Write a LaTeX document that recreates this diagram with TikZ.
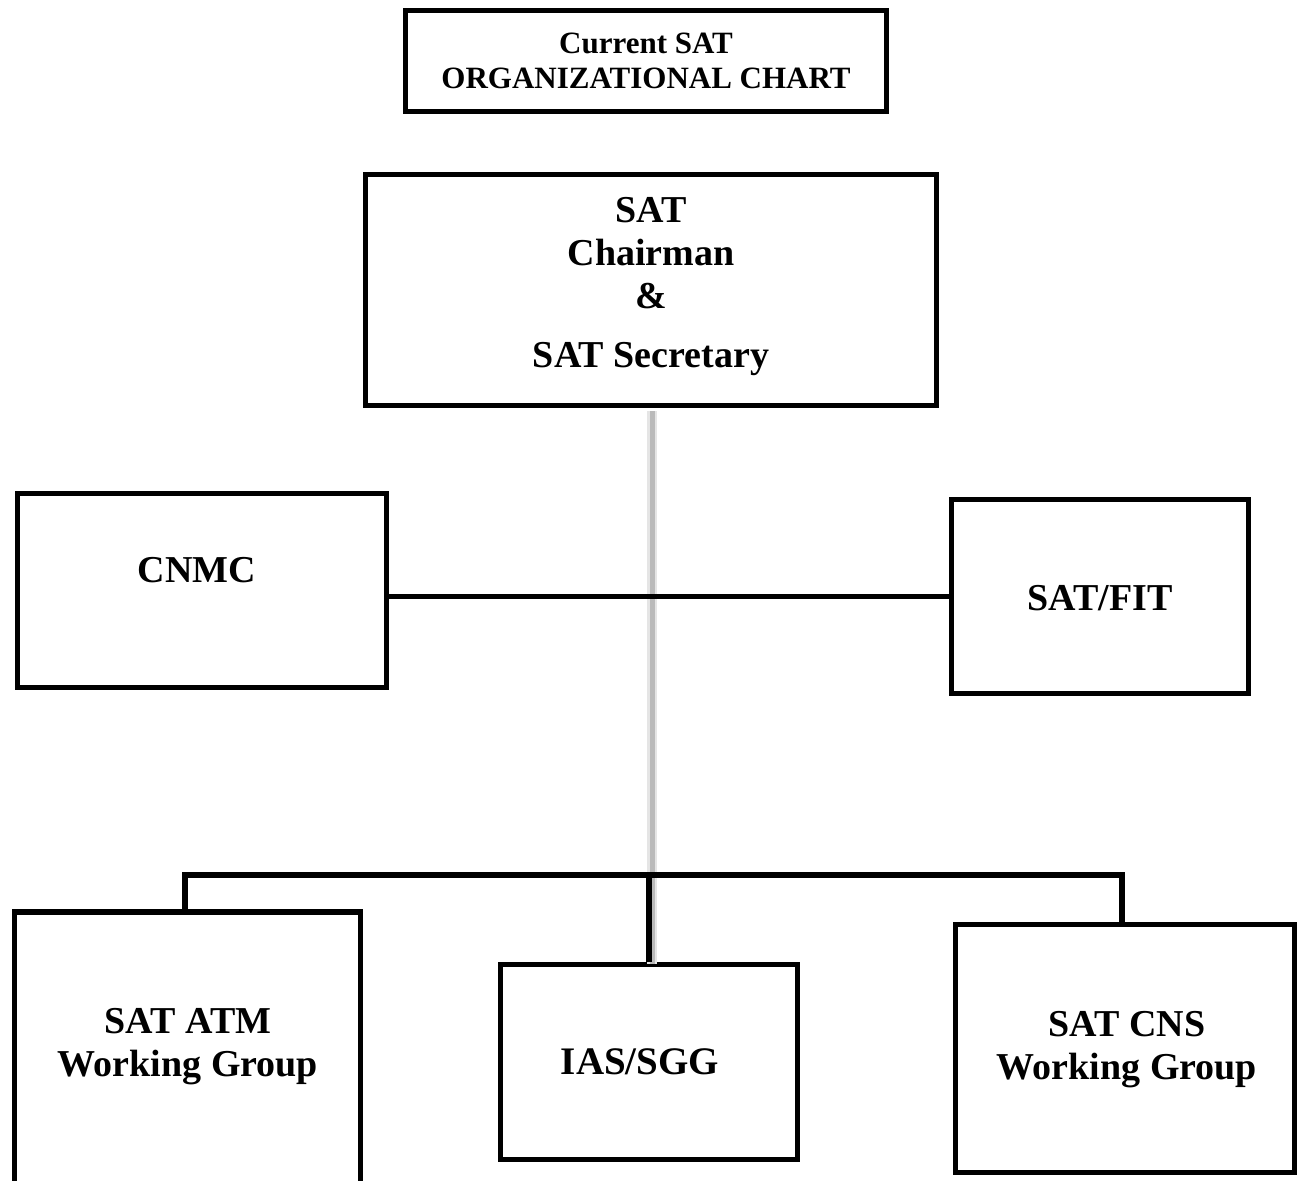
\documentclass[tikz,border=0pt]{standalone}
\usepackage{fontspec}
\setmainfont{Liberation Serif}
\usetikzlibrary{calc}
\begin{document}
\begin{tikzpicture}[x=1pt,y=-1pt,
  box/.style={draw=black, line width=5.5pt, rectangle, inner sep=0pt},
  lbl/.style={font=\bfseries\fontsize{38}{43}\selectfont, align=center, inner sep=0pt},
  ttl/.style={font=\bfseries\fontsize{31}{35}\selectfont, align=center, inner sep=0pt},
  wire/.style={line width=5.5pt, draw=black, line join=miter},
  shadowline/.style={line width=10pt, draw=black!10},
  greyline/.style={line width=5pt, draw=black!27},
]
\useasboundingbox (0,0) rectangle (1305,1180);
\clip (0,0) rectangle (1305,1180);

% boxes
\node[box, minimum width=481pt, minimum height=101pt] (title) at (646,61) {};
\node[box, minimum width=571pt, minimum height=231pt] (chair) at (651,290) {};
\node[box, minimum width=369pt, minimum height=194pt] (cnmc) at (202,590.5) {};
\node[box, minimum width=297pt, minimum height=194pt] (fit) at (1100,596.5) {};
\node[box, minimum width=346pt, minimum height=280pt] (atm) at (187.5,1052) {};
\node[box, minimum width=297pt, minimum height=195pt] (ias) at (649,1062) {};
\node[box, minimum width=339pt, minimum height=248pt] (cns) at (1125,1048.5) {};

% texts
\node[ttl] (titletext) at (title.center) {Current SAT\\ORGANIZATIONAL CHART};
\node[lbl] (chairtext) at (651,287) {SAT\\Chairman\\\&\\[16pt]SAT Secretary};
\node[lbl] (cnmctext) at (197,570) {CNMC};
\node[lbl] (fittext) at (1100,598) {SAT/FIT};
\node[lbl] (atmtext) at (188,1047) {SAT ATM\\Working Group};
\node[lbl, font=\bfseries\fontsize{39}{43}\selectfont] (iastext) at (640,1062) {IAS/SGG};
\node[lbl] (cnstext) at (1127,1050) {SAT CNS\\Working Group};

% grey vertical connector
\coordinate (gtop) at ($(chair.south)+(1,3)$);
\coordinate (gbot) at ($(gtop |- ias.north)+(0,2)$);
\draw[shadowline] (gtop) -- (gbot);
\draw[greyline] (gtop) -- (gbot);

% horizontal connector between CNMC and SAT/FIT
\draw[wire] (fit.west -| cnmc.east) -- (fit.west);

% bottom bus
\coordinate (busL) at (185,875);
\coordinate (busR) at (1122,875);
\coordinate (busM) at (649,875);
\draw[wire] (busL |- atm.north) -- (busL) -- (busR) -- (busR |- cns.north);
\draw[wire] (busM) -- (busM |- ias.north);
\end{tikzpicture}
\end{document}
